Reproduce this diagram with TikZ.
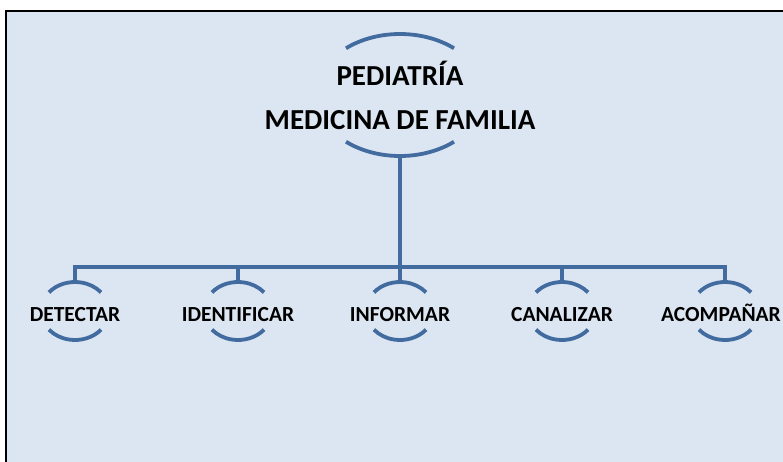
\documentclass[tikz,border=0pt]{standalone}
\usepackage{fontspec}
\setmainfont{Carlito}
\usetikzlibrary{positioning}
\definecolor{panelfill}{RGB}{220,230,242}
\definecolor{treeblue}{RGB}{66,107,160}

\begin{document}
\begin{tikzpicture}[x=1pt, y=-1pt]
	% Define custom styles to make the code cleaner and more reusable.
	\tikzset{
		root/.style={align=center, font=\bfseries\fontsize{29}{44}\selectfont, inner sep=0pt},
		leaf/.style={anchor=base, font=\bfseries\fontsize{21.5}{24}\selectfont, inner sep=0pt},
		bracket/.style={treeblue, line width=3.8pt},
		line/.style={treeblue, line width=4pt}
	}

	% === FRAME ===
	\useasboundingbox (0,0) rectangle (783,461);
	\fill[white] (0,0) rectangle (783,461);
	\draw[fill=panelfill, line width=1.8pt] (6,11) rectangle (792,472);

	% === NODES ===
	\node[root] (head) at (400,95) {PEDIATRÍA\\MEDICINA DE FAMILIA};
	\draw[bracket] (head.center) ++(230:84 and 61) arc[start angle=230, end angle=310, x radius=84, y radius=61];
	\draw[bracket] (head.center) ++(50:84 and 61) arc[start angle=50, end angle=130, x radius=84, y radius=61];
	\coordinate (headfoot) at (400,155);
	\coordinate (bar) at (400,267);

	% the last label sits a little to the left of its ring
	\foreach \x/\dx/\name/\txt in {75/0/det/DETECTAR, 238/0/ide/IDENTIFICAR, 400/0/inf/INFORMAR, 562/0/can/CANALIZAR, 725/-4/aco/ACOMPAÑAR}{
		\coordinate (\name ring) at (\x,311);
		\node[leaf, xshift=\dx pt] (\name) at (\x,321.5) {\txt};
		\draw[bracket] (\name ring) ++(220:34 and 29) arc[start angle=220, end angle=320, x radius=34, y radius=29];
		\draw[bracket] (\name ring) ++(40:34 and 29) arc[start angle=40, end angle=140, x radius=34, y radius=29];
		\coordinate (\name top) at (\x,282);
	}

	% === CONNECTIONS ===
	\draw[line] (headfoot) -- (bar);
	\draw[line] (dettop) |- (bar) -| (acotop);
	\foreach \name in {ide, inf, can}{
		\draw[line] (\name top) -- (\name top |- bar);
	}
\end{tikzpicture}
\end{document}
